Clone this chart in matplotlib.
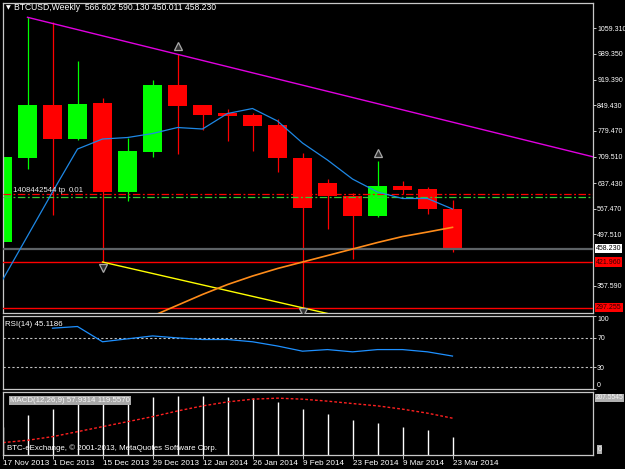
import numpy as np
import matplotlib
matplotlib.use("Agg")
import matplotlib.pyplot as plt

FONT = "Liberation Sans"
RFS = 5.0  # right axis label size

# weekly BTC/USD candles, index 0 = week of 17 Nov 2013
weeks = np.arange(19)
opens = [476.5, 706.4, 849.3, 758.2, 855.6, 613.7, 722.8, 904.7, 849.3, 827.5,
         822.9, 795.6, 704.8, 636.6, 602.8, 547.4, 629.3, 621.1, 566.602]
highs = [817.4, 1089.3, 1075.7, 970.1, 870.0, 761.0, 918.3, 988.4, 851.0, 840.0,
         829.0, 811.1, 718.4, 648.3, 609.3, 697.4, 642.9, 627.3, 590.130]
lows = [470.0, 674.8, 550.2, 755.0, 421.96, 589.2, 709.2, 716.5, 782.0, 752.0,
        724.7, 668.3, 297.255, 512.0, 429.4, 543.9, 606.6, 552.9, 450.011]
closes = [708.3, 849.3, 758.2, 852.9, 613.7, 724.7, 904.7, 847.4, 822.9, 821.0,
          793.7, 704.8, 570.1, 602.8, 547.4, 629.3, 618.3, 565.7, 458.230]

fast_ma = [372.9, 492.9, 612.9, 730.1, 757.4, 761.5, 772.4, 788.8, 784.7, 827.0,
           840.6, 806.5, 746.5, 700.1, 648.3, 612.9, 595.2, 595.2, 566.5]
slow_ma_weeks = np.arange(5, 19)
slow_ma = [245.0, 274.7, 304.2, 333.6, 360.6, 383.8, 404.3, 422.0, 439.7, 457.4,
           475.2, 491.5, 503.8, 516.6]

rsi_weeks = np.arange(2, 19)
rsi = [83.3, 85.6, 64.7, 68.7, 72.7, 70.0, 67.8, 67.8, 64.7, 58.9, 51.8, 54.0,
       50.9, 54.0, 54.0, 50.9, 45.1186]

macd_main = [92.0, 130.5, 151.3, 171.0, 171.0, 174.4, 189.8, 194.1, 194.1, 189.8,
             186.6, 174.4, 149.3, 133.8, 114.0, 103.2, 92.0, 80.1, 57.9314]
macd_signal = [39.2, 47.1, 59.0, 75.5, 92.0, 108.4, 124.9, 143.7, 160.2, 173.4,
               182.3, 185.6, 182.3, 175.7, 167.8, 160.2, 149.3, 136.1, 119.557]

date_labels = ["17 Nov 2013", "1 Dec 2013", "15 Dec 2013", "29 Dec 2013", "12 Jan 2014",
               "26 Jan 2014", "9 Feb 2014", "23 Feb 2014", "9 Mar 2014", "23 Mar 2014"]
price_ticks = [1059.310, 989.350, 919.390, 849.430, 779.470, 709.510, 637.430,
               567.470, 497.510, 357.590]

last_price = 458.230
support_hi = 421.960
support_lo = 297.255
tp_red = 607.4
tp_green = 598.4

W, H = 625, 469
fig = plt.figure(figsize=(W / 100, H / 100), dpi=100, facecolor="black")


def px_axes(x0, y0, x1, y1):
    a = fig.add_axes([x0 / W, 1 - y1 / H, (x1 - x0) / W, (y1 - y0) / H])
    a.set_facecolor("black")
    for s in a.spines.values():
        s.set_color("#c8c8c8")
        s.set_linewidth(0.9)
    a.set_xlim(0.02, 23.62)
    a.set_xticks([])
    a.yaxis.tick_right()
    a.tick_params(axis="y", colors="#c8c8c8", labelcolor="white", labelsize=RFS,
                  length=2.2, width=0.7, pad=0.8)
    return a


def set_right_ticks(a, vals, labels):
    a.set_yticks(vals)
    a.set_yticklabels(labels, family=FONT, fontsize=RFS, color="white")


def price_tag(a, y, txt, fc, tc):
    a.text(1.005, y, txt, transform=a.get_yaxis_transform(), fontsize=RFS, family=FONT,
           color=tc, va="center", ha="left", clip_on=False, zorder=10,
           bbox=dict(boxstyle="square,pad=0.15", fc=fc, ec="none"))


# ---------------- main price panel ----------------
ax = px_axes(3, 3, 593, 313)
ax.set_ylim(283.0, 1128.3)
set_right_ticks(ax, price_ticks, ["%.3f" % v for v in price_ticks])

for i in weeks:
    o, h, l, c = opens[i], highs[i], lows[i], closes[i]
    col = "#00ff00" if c >= o else "#ff0000"
    ax.vlines(i, l, h, color=col, lw=0.9, zorder=2)
    ax.bar(i, max(abs(c - o), 2.0), bottom=min(o, c), width=0.76, color=col, lw=0, zorder=2)

# horizontal levels
ax.axhline(last_price, color="#5d6266", lw=1.6, zorder=3)
ax.axhline(support_hi, color="#ff0000", lw=1.0, zorder=3)
ax.axhline(support_lo, color="#ff0000", lw=1.0, zorder=3)
ax.axhline(tp_red, color="#ff0000", lw=0.9, ls=(0, (6, 2, 1.5, 2)), zorder=3)
ax.axhline(tp_green, color="#33cc33", lw=0.9, ls=(0, (6, 2, 1.5, 2)), zorder=3)

# trend lines through swing points
xr = np.array([1, 23.62])
slope = (highs[7] - highs[1]) / (7 - 1)
ax.plot(xr, highs[1] + slope * (xr - 1), color="#e000e0", lw=1.0, zorder=3)
xr2 = np.array([4, 23.62])
slope2 = (lows[12] - lows[4]) / (12 - 4)
ax.plot(xr2, lows[4] + slope2 * (xr2 - 4), color="#ffff00", lw=1.0, zorder=3)

# moving averages
ax.plot(weeks, fast_ma, color="#1e88e5", lw=0.9, zorder=4)
ax.plot(slow_ma_weeks, slow_ma, color="#ff8c1a", lw=1.2, zorder=4)

# fractal arrows
ax.plot([7, 15], [1011, 719], ls="", marker="^", ms=5.5, mfc="#303030", mec="#a8a8a8",
        mew=0.9, zorder=5)
ax.plot([4, 12], [405, 286.5], ls="", marker="v", ms=5.5, mfc="#303030", mec="#a8a8a8",
        mew=0.9, zorder=5)

price_tag(ax, last_price, "458.230", "white", "black")
price_tag(ax, support_hi, "421.960", "#ff0000", "#300000")
price_tag(ax, support_lo, "297.255", "#ff0000", "#300000")

ax.text(0.017, 618, "1408442544 tp", transform=ax.get_yaxis_transform(), fontsize=5.6,
        family=FONT, color="#e8e8e8", va="center", ha="left", zorder=6)
ax.text(0.112, 616, "0.01", transform=ax.get_yaxis_transform(), fontsize=5.6,
        family=FONT, color="#e8e8e8", va="center", ha="left", zorder=6)

fig.text(6 / W, 1 - 8 / H, "\u25bc", fontsize=4.5, color="white", va="center", ha="left",
         family="DejaVu Sans")
fig.text(14 / W, 1 - 8 / H, "BTCUSD,Weekly  566.602 590.130 450.011 458.230", fontsize=6.2,
         color="white", va="center", ha="left", family=FONT)

# ---------------- RSI panel ----------------
ax_rsi = px_axes(3, 316, 593, 389)
ax_rsi.set_ylim(0, 100)
set_right_ticks(ax_rsi, [100, 70, 30, 0], ["100", "70", "30", "0"])
labs = ax_rsi.get_yticklabels()
labs[0].set_va("top")
labs[-1].set_va("bottom")
ax_rsi.axhline(70, color="#c0c0c0", lw=0.8, ls=(0, (2, 2)))
ax_rsi.axhline(30, color="#c0c0c0", lw=0.8, ls=(0, (2, 2)))
ax_rsi.plot(rsi_weeks, rsi, color="#1e90ff", lw=0.9)
ax_rsi.text(0.004, 0.93, "RSI(14) 45.1186", transform=ax_rsi.transAxes, fontsize=5.7,
            family=FONT, color="white", va="top", ha="left")

# ---------------- MACD panel ----------------
ax_macd = px_axes(3, 391.5, 593, 454.5)
ax_macd.set_ylim(0, 207.5545)
ax_macd.set_yticks([])
ax_macd.vlines(weeks, 0, macd_main, color="white", lw=1.0)
ax_macd.plot(weeks, macd_signal, color="#ff2020", lw=1.0, ls=(0, (2, 1.5)))
ax_macd.text(0.012, 0.86, "MACD(12,26,9) 57.9314 119.5570", transform=ax_macd.transAxes,
             fontsize=5.7, family=FONT, color="#f4f4f4", va="center", ha="left",
             bbox=dict(boxstyle="square,pad=0.15", fc="#a8a8a8", ec="none"))
ax_macd.text(1.004, 0.9, "207.5545", transform=ax_macd.transAxes, fontsize=4.8,
             family=FONT, color="#f4f4f4", va="center", ha="left", clip_on=False,
             bbox=dict(boxstyle="square,pad=0.1", fc="#b0b0b0", ec="none"))
ax_macd.text(1.008, 0.08, "0", transform=ax_macd.transAxes, fontsize=RFS,
             family=FONT, color="#f4f4f4", va="center", ha="left", clip_on=False,
             bbox=dict(boxstyle="square,pad=0.12", fc="#b0b0b0", ec="none"))
ax_macd.text(0.006, 0.1, "BTC-eExchange, \u00a9 2001-2013, MetaQuotes Software Corp.",
             transform=ax_macd.transAxes, fontsize=5.7, family=FONT, color="white",
             va="center", ha="left", zorder=6)

ax_macd.set_xticks(np.arange(0, 19, 2))
ax_macd.set_xticklabels(date_labels, family=FONT, fontsize=5.9, color="white")
ax_macd.tick_params(axis="x", colors="#c8c8c8", labelcolor="white", length=3, width=0.7, pad=1)
for lab in ax_macd.get_xticklabels():
    lab.set_ha("left")

fig.savefig("out.png", dpi=100, facecolor="black")
